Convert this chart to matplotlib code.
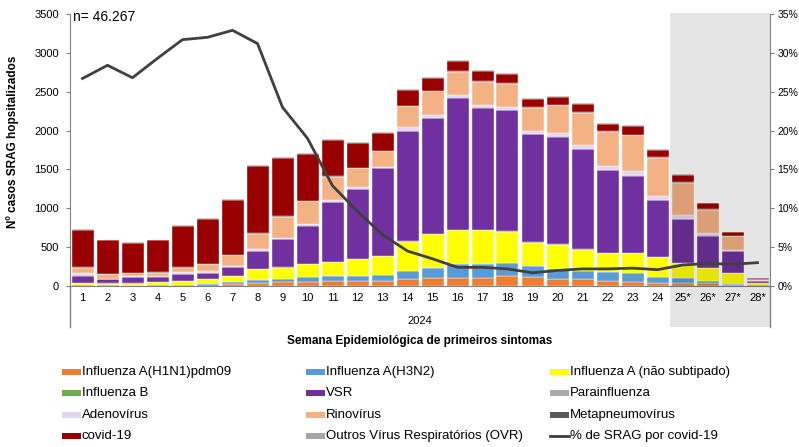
import numpy as np
import matplotlib
matplotlib.use('Agg')
import matplotlib.pyplot as plt
from matplotlib.patches import Rectangle
from matplotlib.lines import Line2D
from matplotlib.transforms import blended_transform_factory
from matplotlib.ticker import FuncFormatter

plt.rcParams['font.family'] = ['Liberation Sans', 'DejaVu Sans']

# epidemiological weeks
weeks = [str(i) for i in range(1, 25)] + ['25*', '26*', '27*', '28*']

# hospitalized SRAG cases per virus (stacked bottom to top)
h1n1 = [3, 3, 2, 4, 4, 6, 20, 40, 50, 55, 60, 68, 65, 86, 99, 107, 107, 129, 116, 86, 86, 69, 56, 43, 43, 34, 10, 3]
h3n2 = [5, 4, 3, 6, 6, 14, 30, 40, 40, 58, 65, 64, 73, 111, 128, 172, 172, 163, 141, 129, 107, 115, 107, 77, 56, 30, 14, 4]
flu_a_ns = [30, 25, 27, 44, 48, 68, 77, 137, 146, 165, 182, 215, 245, 374, 438, 437, 437, 407, 300, 316, 274, 240, 261, 253, 196, 163, 137, 34]
flu_b = [3, 2, 2, 2, 2, 2, 2, 3, 3, 4, 4, 4, 4, 4, 5, 5, 5, 5, 5, 5, 5, 5, 5, 5, 5, 3, 2, 1]
vsr = [94, 50, 76, 66, 97, 80, 113, 225, 360, 495, 765, 895, 1125, 1420, 1490, 1702, 1573, 1557, 1389, 1385, 1286, 1059, 990, 727, 557, 417, 282, 24]
parainf = [3, 3, 3, 3, 3, 3, 3, 5, 5, 5, 5, 5, 5, 5, 5, 5, 5, 5, 5, 5, 5, 5, 5, 5, 5, 4, 3, 1]
adeno = [23, 6, 18, 10, 18, 18, 18, 20, 18, 20, 22, 18, 20, 42, 38, 34, 34, 33, 34, 47, 47, 51, 51, 43, 47, 26, 18, 6]
rino = [77, 58, 38, 37, 57, 86, 130, 198, 270, 290, 305, 245, 195, 272, 300, 290, 295, 304, 303, 350, 415, 436, 462, 492, 414, 303, 172, 8]
metapneumo = [5, 5, 4, 5, 5, 5, 5, 8, 8, 8, 8, 8, 8, 8, 8, 10, 10, 10, 10, 10, 10, 10, 10, 10, 10, 8, 6, 3]
covid = [480, 432, 384, 410, 535, 586, 714, 870, 745, 596, 460, 324, 234, 200, 160, 135, 130, 112, 105, 97, 104, 100, 113, 100, 100, 75, 48, 14]
ovr = [6, 5, 5, 5, 6, 7, 8, 11, 11, 11, 12, 12, 12, 13, 12, 12, 12, 12, 11, 10, 12, 12, 12, 12, 12, 10, 6, 3]

# % of SRAG due to covid-19
pct_covid = [26.7, 28.4, 26.8, 29.3, 31.7, 32.0, 32.9, 31.2, 23.0, 19.0, 12.9, 9.6, 6.6, 4.5,
             3.5, 2.4, 2.4, 2.2, 1.7, 2.0, 2.2, 2.2, 2.3, 2.1, 2.7, 2.9, 2.8, 3.0]

series = [
    ('Influenza A(H1N1)pdm09', h1n1, '#ED7D31'),
    ('Influenza A(H3N2)', h3n2, '#5B9BD5'),
    ('Influenza A (não subtipado)', flu_a_ns, '#FFFF00'),
    ('Influenza B', flu_b, '#70AD47'),
    ('VSR', vsr, '#7030A0'),
    ('Parainfluenza', parainf, '#ABABAB'),
    ('Adenovírus', adeno, '#E4D5F2'),
    ('Rinovírus', rino, '#F4B183'),
    ('Metapneumovírus', metapneumo, '#595959'),
    ('covid-19', covid, '#990000'),
    ('Outros Vírus Respiratórios (OVR)', ovr, '#A6A6A6'),
]
line_label = '% de SRAG por covid-19'
line_color = '#404040'

W, H = 799, 447
fig = plt.figure(figsize=(W / 100, H / 100), dpi=100)
ax = fig.add_axes([70 / W, (H - 286) / H, 700 / W, 272 / H])
ax2 = ax.twinx()

x = np.arange(len(weeks))
bottom = np.zeros(len(weeks))
for name, vals, col in series:
    ax.bar(x, vals, width=0.88, bottom=bottom, color=col, edgecolor='white', linewidth=0.3)
    bottom += np.array(vals)

ax.set_xlim(-0.5, len(weeks) - 0.5)
ax.set_ylim(0, 3500)
ax.set_yticks(np.arange(0, 3501, 500))
ax.set_xticks(x)
ax.set_xticklabels(weeks)
ax.tick_params(axis='x', length=0, pad=5, labelsize=8)
ax.tick_params(axis='y', length=3, direction='out', color='#808080', pad=5, labelsize=8)
for s in ['top', 'right']:
    ax.spines[s].set_visible(False)
for s in ['left', 'bottom']:
    ax.spines[s].set_color('#808080')

# percentage line on the secondary axis
ax2.plot(x, np.array(pct_covid) / 100, color=line_color, lw=2, zorder=4)
ax2.set_ylim(0, 0.35)
ax2.set_yticks(np.arange(0, 0.351, 0.05))
ax2.yaxis.set_major_formatter(FuncFormatter(lambda v, p: f'{round(v * 100)}%'))
ax2.tick_params(axis='y', length=3, direction='out', color='#808080', pad=2.5, labelsize=7.5)
for s in ['top', 'left', 'bottom']:
    ax2.spines[s].set_visible(False)
ax2.spines['right'].set_color('#808080')

# shaded (incomplete) weeks
trans = blended_transform_factory(ax2.transData, ax2.transAxes)
ax2.add_patch(Rectangle((23.5, -0.151), 4, 1.155, transform=trans, facecolor='black',
                        alpha=0.1, edgecolor='none', clip_on=False, zorder=1))

# group separators and year label
for xx in [0, 1]:
    ax.plot([xx, xx], [0, -0.151], transform=ax.transAxes, clip_on=False, color='#808080', lw=1)
ax.text(0.5, -0.129, '2024', transform=ax.transAxes, ha='center', va='center', fontsize=8)

ax.text(0.004, 0.988, 'n= 46.267', transform=ax.transAxes, ha='left', va='center', fontsize=10)

fig.text(13 / W, 1 - 142 / H, 'Nº casos SRAG hopsitalizados', rotation=90, ha='center',
         va='center', fontsize=8.5, fontweight='bold')
fig.text(420 / W, 1 - 341 / H, 'Semana Epidemiológica de primeiros sintomas', ha='center',
         va='center', fontsize=8.5, fontweight='bold')

# legend, three columns laid out like the original
col_x = [62, 306, 550]
row_y = [372, 393, 415, 436]
entries = [(n, c) for n, v, c in series] + [(line_label, None)]
for i, (name, col) in enumerate(entries):
    r, c = divmod(i, 3)
    px, py = col_x[c], row_y[r]
    if col is None:
        fig.add_artist(Line2D([px / W, (px + 19) / W], [1 - py / H, 1 - py / H],
                              transform=fig.transFigure, color=line_color, lw=2))
    else:
        fig.add_artist(Rectangle((px / W, 1 - (py + 3) / H), 19 / W, 6 / H,
                                 transform=fig.transFigure, facecolor=col, edgecolor='none'))
    fig.text((px + 20) / W, 1 - py / H, name, ha='left', va='center', fontsize=9.5)

fig.savefig('out.png', dpi=100)
